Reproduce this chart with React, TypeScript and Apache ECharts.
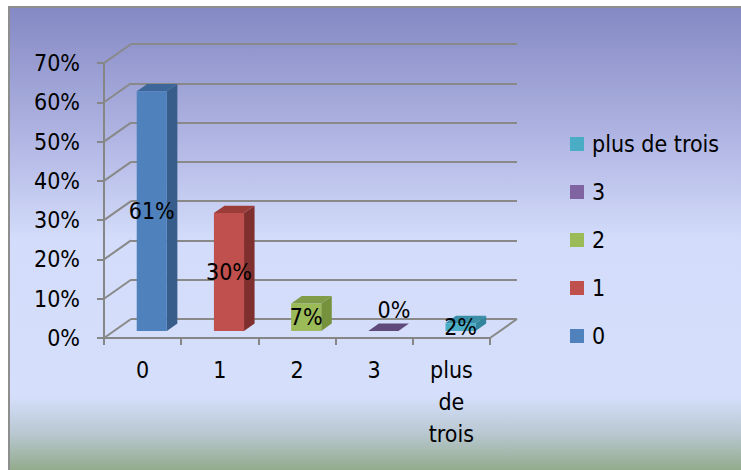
import React, { useEffect, useRef } from 'react';
import * as echarts from 'echarts';

// Share of respondents per category
const categories = ['0', '1', '2', '3', 'plus de trois'];
const shares = [0.61, 0.3, 0.07, 0, 0.02];
const tickValues = [0, 0.1, 0.2, 0.3, 0.4, 0.5, 0.6, 0.7];

// Bar face shading: front, side and top faces
const faceColors = ['#4f81bd', '#c0504d', '#9bbb59', '#8064a2', '#4bacc6'];
const sideColors = ['#385d8a', '#7f302e', '#76923c', '#5c4776', '#31859c'];
const topColors = ['#3e6799', '#9b3c39', '#809c49', '#604a7b', '#3a8ea6'];

const FONT = '"DejaVu Sans Condensed", "DejaVu Sans", sans-serif';
const FONT_SIZE = 23;
const FLOOR_DX = 27;
const FLOOR_DY = -19;
const GRID_COLOR = '#898989';

const pct = (v: number) => `${Math.round(v * 100)}%`;

function renderBar(index: number) {
  return (params: any, api: any) => {
    const i = api.value(0);
    const v = api.value(1);
    const band = api.size([1, 0])[0];
    const base = api.coord([i, 0]);
    const top = api.coord([i, v]);
    const offX = FLOOR_DX * 0.34;
    const offY = FLOOR_DY * 0.37;
    const w = band * 0.39;
    const dx = FLOOR_DX * 0.39;
    const dy = FLOOR_DY * 0.39;
    const cx = base[0] + offX;
    const x0 = cx - w / 2;
    const x1 = cx + w / 2;
    const yb = base[1] + offY;
    const yt = top[1] + offY;
    const children: any[] = [
      {
        type: 'polygon',
        shape: { points: [[x1, yb], [x1 + dx, yb + dy], [x1 + dx, yt + dy], [x1, yt]] },
        style: { fill: sideColors[index] },
      },
      {
        type: 'polygon',
        shape: { points: [[x0, yt], [x1, yt], [x1 + dx, yt + dy], [x0 + dx, yt + dy]] },
        style: { fill: topColors[index] },
      },
    ];
    if (yb - yt > 0.5) {
      children.push({
        type: 'rect',
        shape: { x: x0, y: yt, width: w, height: yb - yt },
        style: { fill: faceColors[index] },
      });
    }
    const zero = v === 0;
    children.push({
      type: 'text',
      z2: 10,
      style: {
        text: pct(v),
        x: zero ? cx + dx : cx,
        y: zero ? yt + dy - 14 : (yt + yb) / 2,
        align: 'center',
        verticalAlign: 'middle',
        fontSize: FONT_SIZE,
        fontFamily: FONT,
        fill: '#000',
      },
    });
    return { type: 'group', children };
  };
}

function renderWalls(params: any, api: any) {
  const cs = params.coordSys;
  const v = api.value(1);
  const y = api.coord([0, v])[1];
  const style = { stroke: GRID_COLOR, lineWidth: 2 };
  const children: any[] = [
    {
      type: 'line',
      shape: { x1: cs.x, y1: y, x2: cs.x + FLOOR_DX, y2: y + FLOOR_DY },
      style,
    },
  ];
  if (v === 0) {
    children.push({
      type: 'line',
      shape: { x1: cs.x + cs.width, y1: y, x2: cs.x + cs.width + FLOOR_DX, y2: y + FLOOR_DY },
      style,
    });
  }
  return { type: 'group', children };
}

export default function App() {
  const ref = useRef<HTMLDivElement>(null);

  useEffect(() => {
    if (!ref.current) return;
    const chart = echarts.init(ref.current, null, { renderer: 'svg' });

    const axisLine = { show: true, lineStyle: { color: '#868686', width: 2 } };
    const axisTick = { show: true, length: 7, lineStyle: { color: '#868686', width: 2 } };

    const barSeries = categories.map((name, i) => ({
      type: 'custom',
      name,
      xAxisIndex: 0,
      yAxisIndex: 0,
      z: 5,
      silent: true,
      itemStyle: { color: faceColors[i] },
      encode: { x: 0, y: 1 },
      data: [[i, shares[i]]],
      renderItem: renderBar(i),
    }));

    chart.setOption({
      animation: false,
      graphic: [
        {
          type: 'rect',
          z: -10,
          silent: true,
          shape: { x: 10, y: 8, width: 731, height: 462 },
          style: {
            fill: new echarts.graphic.LinearGradient(0, 0, 0, 1, [
              { offset: 0, color: '#8589c4' },
              { offset: 0.3, color: '#b3b8e5' },
              { offset: 0.5, color: '#d3dcfa' },
              { offset: 0.84, color: '#d5dffb' },
              { offset: 0.92, color: '#b9c8d2' },
              { offset: 1, color: '#93ab8c' },
            ]),
          },
        },
        {
          type: 'line',
          z: -9,
          silent: true,
          shape: { x1: 9, y1: 7, x2: 9, y2: 470 },
          style: { stroke: '#8e8e8e', lineWidth: 2 },
        },
        {
          type: 'line',
          z: -9,
          silent: true,
          shape: { x1: 8, y1: 7, x2: 741, y2: 7 },
          style: { stroke: '#8e8e8e', lineWidth: 2 },
        },
      ],
      legend: {
        orient: 'vertical',
        left: 570,
        top: 131,
        padding: 0,
        itemWidth: 14,
        itemHeight: 14,
        itemGap: 22,
        icon: 'rect',
        selectedMode: false,
        data: [...categories].reverse(),
        textStyle: {
          fontSize: FONT_SIZE,
          fontFamily: FONT,
          color: '#000',
          lineHeight: 26,
          padding: [0, 0, 0, 3],
        },
      },
      grid: [
        { left: 104, top: 63, width: 386, height: 275 },
        { left: 131, top: 44, width: 386, height: 275 },
      ],
      xAxis: [
        {
          type: 'category',
          gridIndex: 0,
          data: categories,
          axisLine,
          axisTick,
          axisLabel: {
            interval: 0,
            margin: 16,
            fontSize: FONT_SIZE,
            fontFamily: FONT,
            lineHeight: 32,
            color: '#000',
            verticalAlign: 'top',
            formatter: (s: string) => s.split(' ').join('\n'),
          },
          splitLine: { show: false },
        },
        {
          type: 'category',
          gridIndex: 1,
          data: categories,
          show: false,
        },
      ],
      yAxis: [
        {
          type: 'value',
          gridIndex: 0,
          min: 0,
          max: 0.7,
          interval: 0.1,
          axisLine,
          axisTick,
          axisLabel: {
            margin: 24,
            fontSize: FONT_SIZE,
            fontFamily: FONT,
            color: '#000',
            formatter: (v: number) => pct(v),
          },
          splitLine: { show: false },
        },
        {
          type: 'value',
          gridIndex: 1,
          min: 0,
          max: 0.7,
          interval: 0.1,
          axisLine: { show: false },
          axisTick: { show: false },
          axisLabel: { show: false },
          splitLine: { show: true, lineStyle: { color: GRID_COLOR, width: 2 } },
        },
      ],
      series: [
        {
          type: 'custom',
          name: 'walls',
          xAxisIndex: 0,
          yAxisIndex: 0,
          z: 1,
          silent: true,
          encode: { x: 0, y: 1 },
          data: tickValues.map((v) => [0, v]),
          renderItem: renderWalls,
        },
        ...barSeries,
      ],
    });

    return () => chart.dispose();
  }, []);

  return (
    <div
      ref={ref}
      style={{ position: 'fixed', left: 0, top: 0, width: 741, height: 470, background: '#fff' }}
    />
  );
}
